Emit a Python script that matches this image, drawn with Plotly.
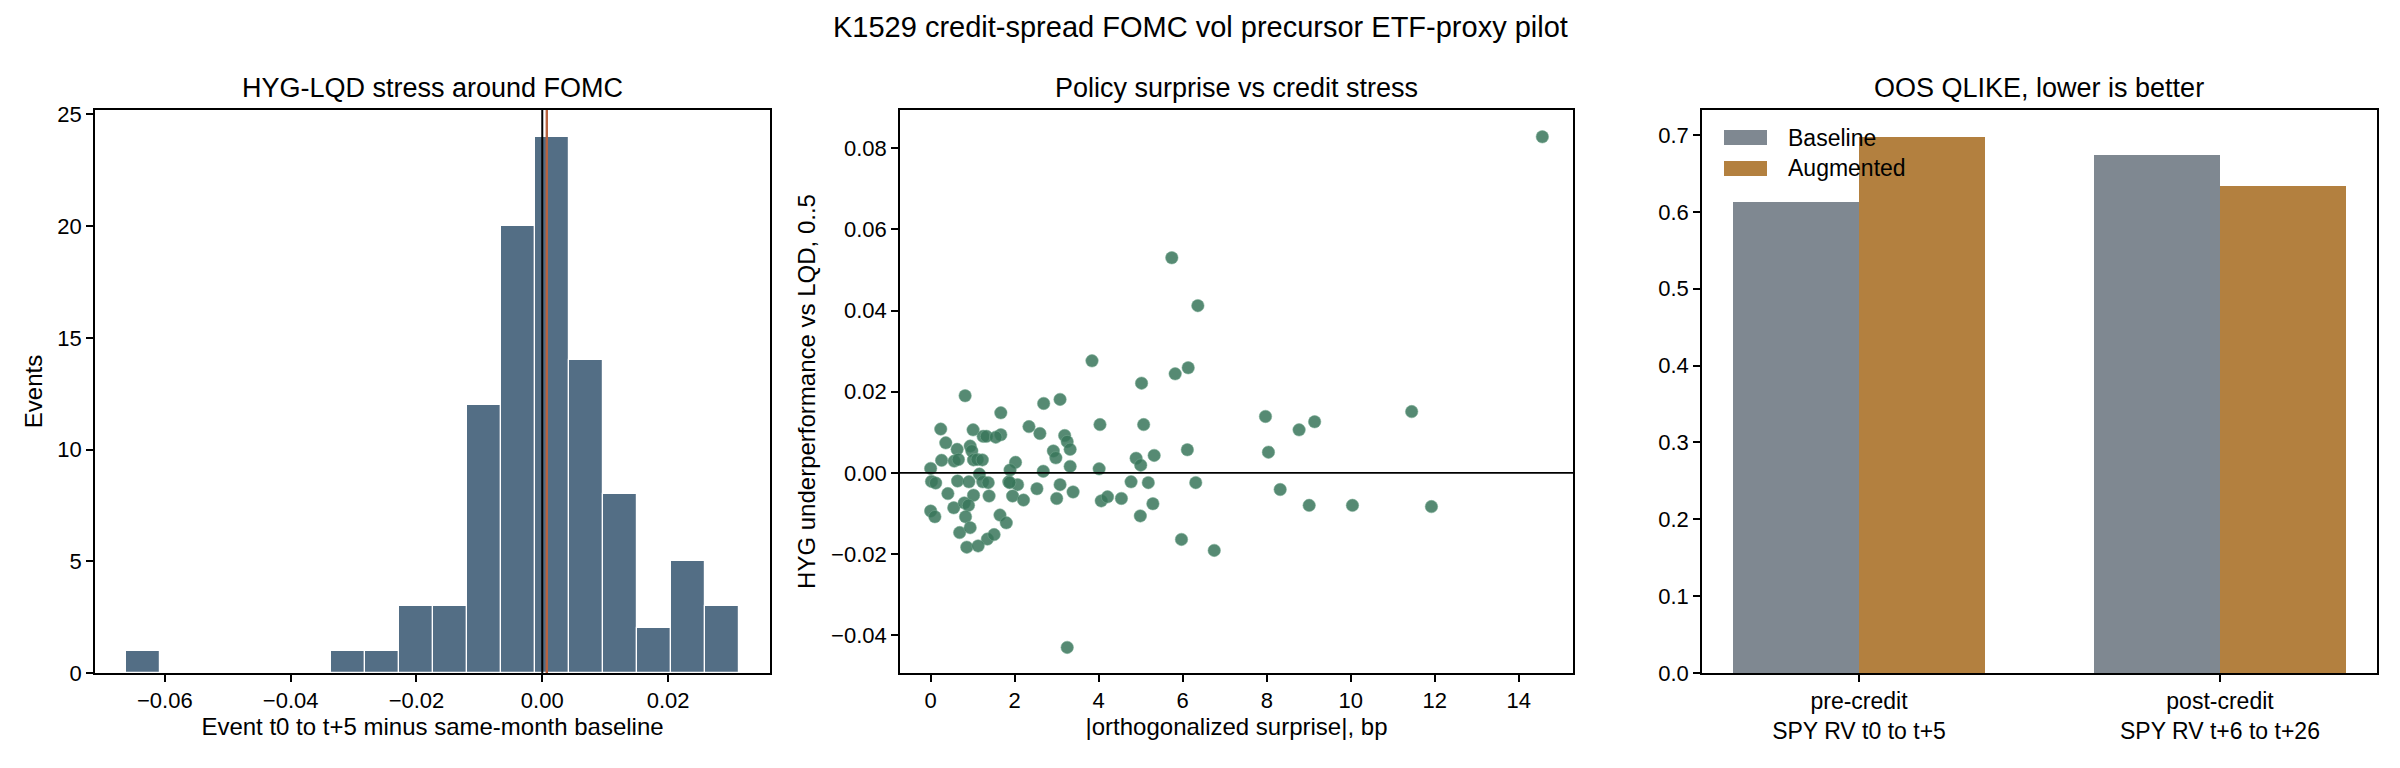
import numpy as np
import plotly.graph_objects as go

# ---------------- data ----------------
# Histogram: HYG-LQD stress around FOMC
hist_bin_start = -0.0661
hist_bin_width = 0.00541
hist_counts = [1, 0, 0, 0, 0, 0, 1, 1, 3, 3, 12, 20, 24, 14, 8, 2, 5, 3]
hist_mean_line = 0.00072

# Scatter: policy surprise vs credit stress
surprise_bp = [14.56, 5.74, 6.36, 3.84, 5.82, 6.13, 5.02, 0.82, 2.69, 3.08,
               1.67, 11.45, 7.97, 9.14, 8.77, 0.24, 1.01, 4.03, 5.07, 2.34,
               2.60, 1.67, 1.25, 1.33, 1.55, 3.19, 3.25, 3.32, 0.36, 0.94,
               0.63, 0.98, 2.92, 2.98, 6.11, 8.04, 5.32, 4.89, 0.26, 0.56,
               0.66, 1.02, 1.11, 1.23, 2.02, 0.00, 1.89, 2.68, 3.32, 4.01,
               5.00, 1.16, 0.02, 0.12, 0.64, 0.91, 1.24, 1.37, 1.86, 2.07,
               3.08, 4.77, 5.18, 6.31, 0.41, 1.02, 1.39, 1.95, 2.21, 2.53,
               3.00, 3.39, 4.06, 4.21, 4.54, 5.29, 8.32, 9.01, 10.04, 11.92,
               0.55, 0.80, 0.90, 0.00, 0.10, 0.83, 1.65, 1.80, 4.99, 0.69,
               0.94, 1.35, 1.51, 0.86, 1.13, 5.97, 6.75, 3.25, 1.88]
hyg_under = [0.0828, 0.0530, 0.0412, 0.0276, 0.0244, 0.0259, 0.0221, 0.0190, 0.0171, 0.0181,
             0.0148, 0.0151, 0.0139, 0.0126, 0.0106, 0.0108, 0.0106, 0.0119, 0.0119, 0.0114,
             0.0097, 0.0094, 0.0090, 0.0090, 0.0088, 0.0092, 0.0077, 0.0058, 0.0074, 0.0066,
             0.0058, 0.0054, 0.0054, 0.0037, 0.0057, 0.0051, 0.0043, 0.0036, 0.0031, 0.0029,
             0.0033, 0.0032, 0.0033, 0.0032, 0.0026, 0.0011, 0.0007, 0.0004, 0.0016, 0.0010,
             0.0019, -0.0003, -0.0021, -0.0025, -0.0020, -0.0022, -0.0022, -0.0024, -0.0022, -0.0029,
             -0.0029, -0.0022, -0.0024, -0.0024, -0.0051, -0.0055, -0.0057, -0.0057, -0.0067, -0.0039,
             -0.0063, -0.0047, -0.0069, -0.0059, -0.0063, -0.0076, -0.0041, -0.0080, -0.0080, -0.0083,
             -0.0086, -0.0074, -0.0080, -0.0094, -0.0108, -0.0108, -0.0104, -0.0123, -0.0106, -0.0147,
             -0.0135, -0.0163, -0.0152, -0.0183, -0.0180, -0.0164, -0.0191, -0.0430, -0.0024]

# Bars: OOS QLIKE
bar_categories = ["pre-credit<br>SPY RV t0 to t+5", "post-credit<br>SPY RV t+6 to t+26"]
series_names = ["Baseline", "Augmented"]
qlike_baseline = [0.613, 0.674]
qlike_augmented = [0.698, 0.634]

# ---------------- style ----------------
FONT = "Liberation Sans, Arial, sans-serif"
HIST_C = "#536e85"
LINE_C = "#b8623f"
SCAT_C = "rgba(56,118,90,0.85)"
BASE_C = "#7f8891"
AUG_C = "#b3803f"
AXW = 1.7

W, H = 2400, 768
def px_x(a, b):
    return [a / W, b / W]
def fx(px):
    return px / W
def fy(py):
    return (H - py) / H
ydom = [fy(673), fy(110)]

fig = go.Figure()

# histogram (bars built from bin edges)
edges = hist_bin_start + hist_bin_width * np.arange(len(hist_counts) + 1)
centers = (edges[:-1] + edges[1:]) / 2
fig.add_trace(go.Bar(x=centers, y=hist_counts, width=hist_bin_width,
                     marker=dict(color=HIST_C, line=dict(color="white", width=1.2)),
                     showlegend=False, xaxis="x", yaxis="y"))

# scatter
fig.add_trace(go.Scatter(x=surprise_bp, y=hyg_under, mode="markers",
                         marker=dict(color=SCAT_C, size=12.5,
                                     line=dict(color="rgba(120,170,145,0.6)", width=0.9)),
                         showlegend=False, xaxis="x2", yaxis="y2"))

# grouped bars
xpos = np.arange(len(bar_categories))
bw = 0.35
bar_colors = [BASE_C, AUG_C]
for k, (vals, name) in enumerate(zip([qlike_baseline, qlike_augmented], series_names)):
    fig.add_trace(go.Bar(x=xpos + (k - 0.5) * bw, y=vals, width=bw, name=name,
                         marker=dict(color=bar_colors[k], line=dict(width=0)),
                         showlegend=False, xaxis="x3", yaxis="y3"))

axis_common = dict(showline=True, linecolor="black", linewidth=AXW, mirror=True,
                   ticks="outside", ticklen=7, tickwidth=AXW, tickcolor="black",
                   showgrid=False, zeroline=False, automargin=False,
                   tickfont=dict(family=FONT, size=22, color="black"))
title_font = dict(family=FONT, size=24, color="black")

fig.update_layout(
    width=W, height=H, margin=dict(l=0, r=0, t=0, b=0, autoexpand=False),
    paper_bgcolor="white", plot_bgcolor="white",
    font=dict(family=FONT, color="black"),
    barmode="overlay", bargap=0, showlegend=False,
    xaxis=dict(domain=px_x(95, 770), anchor="y", range=[-0.0711, 0.0362],
               tickvals=[-0.06, -0.04, -0.02, 0.0, 0.02], tickformat=".2f",
               title=dict(text="Event t0 to t+5 minus same-month baseline", font=title_font, standoff=4),
               **axis_common),
    yaxis=dict(domain=ydom, anchor="x", range=[0, 25.2], tickvals=[0, 5, 10, 15, 20, 25],
               title=dict(text="Events", font=title_font, standoff=8), **axis_common),
    xaxis2=dict(domain=px_x(900, 1573), anchor="y2", range=[-0.73, 15.29],
                tickvals=list(range(0, 15, 2)),
                title=dict(text="|orthogonalized surprise|, bp", font=title_font, standoff=4),
                **axis_common),
    yaxis2=dict(domain=ydom, anchor="x2", range=[-0.0493, 0.0894],
                tickvals=[-0.04, -0.02, 0.0, 0.02, 0.04, 0.06, 0.08], tickformat=".2f",
                title=dict(text="HYG underperformance vs LQD, 0..5", font=title_font, standoff=9),
                **axis_common),
    xaxis3=dict(domain=px_x(1702, 2377), anchor="y3", range=[-0.435, 1.435],
                tickvals=list(xpos), ticktext=bar_categories, **axis_common),
    yaxis3=dict(domain=ydom, anchor="x3", range=[0, 0.7325],
                tickvals=[0, 0.1, 0.2, 0.3, 0.4, 0.5, 0.6, 0.7], tickformat=".1f",
                **axis_common),
)
fig.update_xaxes(tickfont=dict(size=23), selector=dict(anchor="y3"))

# reference lines
fig.add_shape(type="line", xref="x", yref="y domain", x0=0, x1=0, y0=0, y1=1,
              line=dict(color="black", width=2))
fig.add_shape(type="line", xref="x", yref="y domain", x0=hist_mean_line, x1=hist_mean_line,
              y0=0, y1=1, line=dict(color=LINE_C, width=2.4))
fig.add_shape(type="line", xref="x2 domain", yref="y2", x0=0, x1=1, y0=0, y1=0,
              line=dict(color="black", width=1.8))

# legend (matplotlib-style wide patches, no frame)
legend_rows = [(130, 145), (161, 176)]
for k, name in enumerate(series_names):
    y0, y1 = legend_rows[k]
    fig.add_shape(type="rect", xref="paper", yref="paper",
                  x0=fx(1724), x1=fx(1767), y0=fy(y1), y1=fy(y0),
                  fillcolor=bar_colors[k], line=dict(width=0), layer="above")
    fig.add_annotation(text=name, x=fx(1786), y=fy((y0 + y1) / 2), xref="paper", yref="paper",
                       showarrow=False, xanchor="left", yanchor="middle",
                       font=dict(family=FONT, size=23, color="black"))

# titles
def title_ann(text, xc, yc, size):
    fig.add_annotation(text=text, x=fx(xc), y=fy(yc), xref="paper", yref="paper",
                       showarrow=False, xanchor="center", yanchor="middle",
                       font=dict(family=FONT, size=size, color="black"))

title_ann("K1529 credit-spread FOMC vol precursor ETF-proxy pilot", 1200, 27, 29)
title_ann("HYG-LQD stress around FOMC", (95 + 770) / 2, 88, 27)
title_ann("Policy surprise vs credit stress", (900 + 1573) / 2, 88, 27)
title_ann("OOS QLIKE, lower is better", (1702 + 2377) / 2, 88, 27)

fig.write_html("out.html")
